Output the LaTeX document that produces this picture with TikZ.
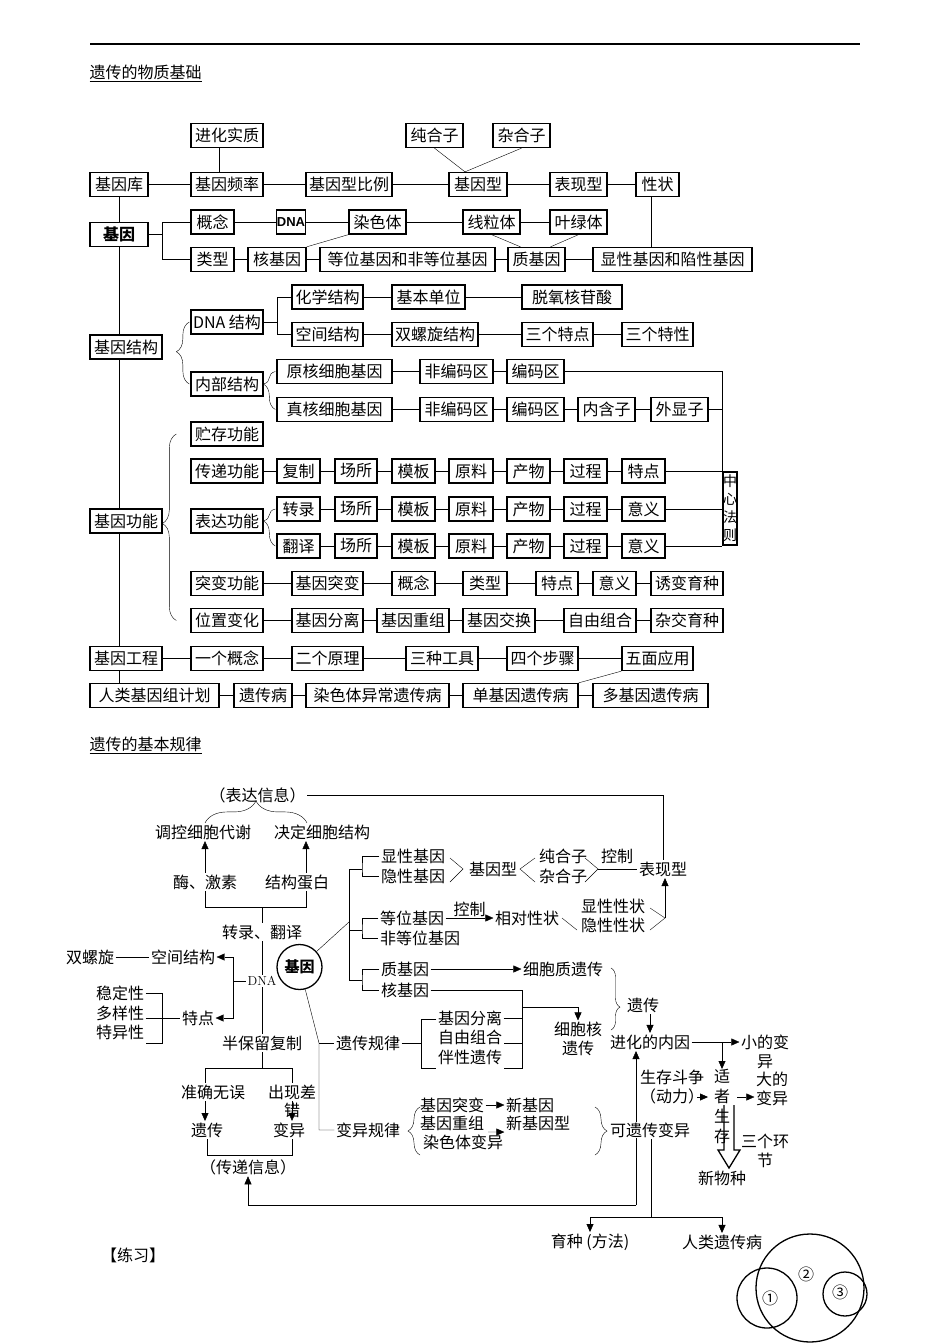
\documentclass[tikz,border=0pt]{standalone}
\usepackage{fontspec}
\newfontfamily\cjk{Noto Sans CJK SC}
\newfontfamily\lsans{Liberation Sans}
\usepackage{tikz}
\usetikzlibrary{positioning,arrows.meta,backgrounds,decorations.pathreplacing}
\tikzstyle{box} = [draw, fill=white, minimum height=24pt, inner sep=0pt,
                   font=\cjk\fontsize{16}{19}\selectfont]
\tikzstyle{bbox} = [box, font=\cjk\bfseries\fontsize{16}{19}\selectfont]
\tikzstyle{txt} = [inner sep=1pt, font=\cjk\fontsize{16}{19}\selectfont]
\tikzstyle{arr} = [-{Triangle[length=8pt,width=7pt]}]
\begin{document}
\begin{tikzpicture}[x=1pt, y=-1pt, line width=1.3pt,
		brc/.style={decorate, decoration={brace, amplitude=12pt, aspect=#1}},
		brc/.default=0.5
	]
	\useasboundingbox (0,0) rectangle (950,1344);
	\draw (90,44) -- (860,44);
	\node[txt, anchor=west] (ttl1) at (88,73) {\underline{遗传的物质基础}};

	% first part: boxes
	\node[box, minimum width=72pt] (jhsz) at (227,135.5) {进化实质};
	\node[box, minimum width=57pt] (chz) at (434.5,135.5) {纯合子};
	\node[box, minimum width=57pt] (zhz) at (521.5,135.5) {杂合子};
	\node[box, minimum width=58pt] (jyk) at (119,184.5) {基因库};
	\node[box, minimum width=72pt] (jypl) at (227,184.5) {基因频率};
	\node[box, minimum width=86pt] (jyxbl) at (349,184.5) {基因型比例};
	\node[box, minimum width=58pt] (jyx) at (478,184.5) {基因型};
	\node[box, minimum width=57pt] (bxx) at (578.5,184.5) {表现型};
	\node[box, minimum width=43pt] (xz) at (657.5,184.5) {性状};
	\node[bbox, minimum width=58pt] (jy) at (119,234.5) {基因};
	\node[box, minimum width=43pt] (gn) at (212.5,222) {概念};
	\node[box, minimum width=29pt, font=\lsans\bfseries\fontsize{13}{15}\selectfont] (dna) at (291,222) {DNA};
	\node[box, minimum width=57pt] (rst) at (377.5,222) {染色体};
	\node[box, minimum width=57pt] (xlt) at (491.5,222) {线粒体};
	\node[box, minimum width=57pt] (ylt) at (578.5,222) {叶绿体};
	\node[box, minimum width=43pt] (lx) at (212.5,259.5) {类型};
	\node[box, minimum width=58pt] (hjy) at (277,259.5) {核基因};
	\node[box, minimum width=175pt] (dwjy) at (407.5,259.5) {等位基因和非等位基因};
	\node[box, minimum width=57pt] (zjy) at (536.5,259.5) {质基因};
	\node[box, minimum width=159pt] (xxjy) at (672.5,259.5) {显性基因和陷性基因};

	\node[box, minimum width=72pt] (jyjg) at (126,347) {基因结构};
	\node[box, minimum width=72pt] (dnajg) at (227,322) {DNA 结构};
	\node[box, minimum width=72pt] (nbjg) at (227,384) {内部结构};
	\node[box, minimum width=71pt] (hxjg) at (327.5,297) {化学结构};
	\node[box, minimum width=73pt] (jbdw) at (428.5,297) {基本单位};
	\node[box, minimum width=100pt] (tyhg) at (572,297) {脱氧核苷酸};
	\node[box, minimum width=71pt] (kjjg) at (327.5,334.5) {空间结构};
	\node[box, minimum width=86pt] (slxjg) at (435,334.5) {双螺旋结构};
	\node[box, minimum width=71pt] (sgtd) at (557.5,334.5) {三个特点};
	\node[box, minimum width=71pt] (sgtx) at (657.5,334.5) {三个特性};
	\node[box, minimum width=115pt] (yhxb) at (334.5,371.5) {原核细胞基因};
	\node[box, minimum width=73pt] (fbm1) at (456.5,371.5) {非编码区};
	\node[box, minimum width=57pt] (bm1) at (535.5,371.5) {编码区};
	\node[box, minimum width=115pt] (zhxb) at (334.5,409.5) {真核细胞基因};
	\node[box, minimum width=73pt] (fbm2) at (456.5,409.5) {非编码区};
	\node[box, minimum width=57pt] (bm2) at (535.5,409.5) {编码区};
	\node[box, minimum width=57pt] (nhz) at (606.5,409.5) {内含子};
	\node[box, minimum width=57pt] (wxz) at (679.5,409.5) {外显子};

	\node[box, minimum width=72pt] (jygn) at (126,521) {基因功能};
	\node[box, minimum width=72pt] (zcgn) at (227,434) {贮存功能};
	\node[box, minimum width=72pt] (cdgn) at (227,471) {传递功能};
	\node[box, minimum width=72pt] (bdgn) at (227,521) {表达功能};
	\node[box, minimum width=43pt] (fz) at (298.5,471) {复制};
	\node[box, minimum width=43pt] (zl) at (298.5,509) {转录};
	\node[box, minimum width=43pt] (fy) at (298.5,546) {翻译};
	\foreach \r/\y/\e in {fz/471/特点, zl/509/意义, fy/546/意义}{
		\node[box, minimum width=42pt] (cs\r) at (356,\y) {场所};
		\node[box, minimum width=43pt] (mb\r) at (413.5,\y) {模板};
		\node[box, minimum width=44pt] (yl\r) at (471,\y) {原料};
		\node[box, minimum width=43pt] (cw\r) at (528.5,\y) {产物};
		\node[box, minimum width=43pt] (gc\r) at (585.5,\y) {过程};
		\node[box, minimum width=43pt] (yy\r) at (643.5,\y) {\e};
	}
	\node[draw, minimum width=14pt, minimum height=73pt, inner sep=0pt] (zxfz) at (730,508.5) {};
	\node[txt, align=center, inner sep=0pt, font=\cjk\fontsize{14}{18}\selectfont] (zxfzt) at (zxfz) {中\\心\\法\\则};

	\node[box, minimum width=72pt] (tbgn) at (227,583.5) {突变功能};
	\node[box, minimum width=71pt] (jytb) at (327.5,583.5) {基因突变};
	\node[box, minimum width=43pt] (tbgnn) at (413.5,583.5) {概念};
	\node[box, minimum width=44pt] (tblx) at (485,583.5) {类型};
	\node[box, minimum width=42pt] (tbtd) at (557,583.5) {特点};
	\node[box, minimum width=43pt] (tbyy) at (614.5,583.5) {意义};
	\node[box, minimum width=72pt] (ybyz) at (687,583.5) {诱变育种};
	\node[box, minimum width=72pt] (wzbh) at (227,620.5) {位置变化};
	\node[box, minimum width=71pt] (jyfl) at (327.5,620.5) {基因分离};
	\node[box, minimum width=72pt] (jycz) at (413,620.5) {基因重组};
	\node[box, minimum width=72pt] (jyjh) at (499,620.5) {基因交换};
	\node[box, minimum width=72pt] (zyzh) at (600,620.5) {自由组合};
	\node[box, minimum width=72pt] (zjyz) at (687,620.5) {杂交育种};
	\node[box, minimum width=72pt] (jygc) at (126,658.5) {基因工程};
	\node[box, minimum width=72pt] (ygnn) at (227,658.5) {一个概念};
	\node[box, minimum width=71pt] (egyl) at (327.5,658.5) {二个原理};
	\node[box, minimum width=72pt] (szgj) at (442,658.5) {三种工具};
	\node[box, minimum width=71pt] (sgbz) at (542.5,658.5) {四个步骤};
	\node[box, minimum width=71pt] (wmyy) at (657.5,658.5) {五面应用};
	\node[box, minimum width=129pt] (rljy) at (154.5,695.5) {人类基因组计划};
	\node[box, minimum width=58pt] (ycb) at (263,695.5) {遗传病};
	\node[box, minimum width=143pt] (rsyc) at (377.5,695.5) {染色体异常遗传病};
	\node[box, minimum width=115pt] (djyb) at (520.5,695.5) {单基因遗传病};
	\node[box, minimum width=115pt] (dujy) at (650.5,695.5) {多基因遗传病};

	% second part: texts
	\node[txt, anchor=west] (ttl2) at (88,745) {\underline{遗传的基本规律}};
	\node[txt] (bdxx) at (257.5,795) {（表达信息）};
	\node[txt] (tkdx) at (203,832) {调控细胞代谢};
	\node[txt] (jdjg) at (322,832) {决定细胞结构};
	\node[txt] (mjs) at (205,882) {酶、激素};
	\node[txt] (jgdb) at (297,882) {结构蛋白};
	\node[txt] (zlfy) at (262,932) {转录、翻译};
	\node[txt, font=\fontsize{13}{15}\selectfont] (dnat) at (262,981) {DNA};
	\node[txt] (kjjgt) at (183,957) {空间结构};
	\node[txt] (slx) at (90,957) {双螺旋};
	\node[txt] (wdx) at (120,993) {稳定性};
	\node[txt] (dyx) at (120,1013) {多样性};
	\node[txt] (tyx) at (120,1032) {特异性};
	\node[txt] (tdt) at (198,1018) {特点};
	\node[txt] (bblfz) at (262,1043) {半保留复制};
	\node[txt] (zqwx) at (213,1092) {准确无误};
	\node[txt] (cxc) at (292,1092) {出现差};
	\node[txt] (cuo) at (292,1110) {错};
	\node[txt] (ycx) at (207,1130) {遗传};
	\node[txt] (byx) at (289,1130) {变异};
	\node[txt] (cdxx) at (248,1167) {（传递信息）};

	\node[circle, draw, minimum size=45pt, inner sep=0pt, font=\cjk\bfseries\fontsize{15}{18}\selectfont] (jyq) at (299.5,967) {基因};
	\node[txt] (xxjyt) at (413,856) {显性基因};
	\node[txt] (yxjyt) at (413,876) {隐性基因};
	\node[txt] (jyxt) at (493,869) {基因型};
	\node[txt] (chzt) at (563,856) {纯合子};
	\node[txt] (zhzt) at (563,876) {杂合子};
	\node[txt] (kza) at (617,856) {控制};
	\node[txt] (bxxt) at (663,869) {表现型};
	\node[txt] (dwjyt) at (412,918) {等位基因};
	\node[txt] (fdwjy) at (420,938) {非等位基因};
	\node[txt] (xdxz) at (527,918) {相对性状};
	\node[txt] (xxxz) at (613,906) {显性性状};
	\node[txt] (yxxz) at (613,925) {隐性性状};
	\node[txt] (zjyt) at (405,969) {质基因};
	\node[txt] (hjyt) at (405,990) {核基因};
	\node[txt] (xbzyc) at (563,969) {细胞质遗传};
	\node[txt] (jyflt) at (470,1018) {基因分离};
	\node[txt] (zyzht) at (470,1037) {自由组合};
	\node[txt] (bxyc) at (470,1057) {伴性遗传};
	\node[txt, align=center] (xbhyc) at (578,1039) {细胞核\\遗传};
	\node[txt] (ycgl) at (368,1043) {遗传规律};
	\node[txt] (bygl) at (368,1130) {变异规律};
	\node[txt] (jytbt) at (452,1105) {基因突变};
	\node[txt] (jyczt) at (452,1123) {基因重组};
	\node[txt] (rsbt) at (463,1142) {染色体变异};
	\node[txt] (xjy) at (530,1105) {新基因};
	\node[txt] (xjyx) at (538,1123) {新基因型};
	\node[txt, fill=white] (kycby) at (650,1130) {可遗传变异};
	\node[txt] (ycy) at (643,1005) {遗传};
	\node[txt] (jhny) at (650,1042) {进化的内因};
	\node[txt] (xdby) at (765,1042) {小的变};
	\node[txt] (xdbyb) at (765,1062) {异};
	\node[txt, anchor=north, align=center, inner sep=0pt, font=\cjk\fontsize{16}{20}\selectfont] (szsc) at (722,1069) {适\\者\\生\\存};
	\node[txt, align=center] (sczz) at (672,1087.5) {生存斗争\\（动力）};
	\node[txt, align=center] (ddby) at (772,1089) {大的\\变异};
	\node[txt] (xwz) at (722,1178) {新物种};
	\node[txt, align=center] (sghj) at (765,1151) {三个环\\节};
	\node[txt] (yzff) at (590,1242) {育种 (方法)};
	\node[txt] (rlycb) at (722,1242) {人类遗传病};
	\node[txt] (lianxi) at (133,1255) {【练习】};

	\draw (810,1288) circle (54pt);
	\draw (767,1298) circle (30pt);
	\draw (845,1294) circle (22pt);
	\node[txt] (qa) at (770,1298) {①};
	\node[txt] (qb) at (806,1274) {②};
	\node[txt] (qc) at (840,1292) {③};

	\begin{scope}[on background layer]
		% first part: connectors
		\draw (jyk) -- (jypl) -- (jyxbl) -- (jyx) -- (bxx) -- (xz);
		\draw ([xshift=-8pt]jypl.north) -- ([xshift=-8pt]jhsz.south);
		\draw (chz.south) -- ([xshift=-13pt]jyx.north);
		\draw (zhz.south) -- ([xshift=-13pt]jyx.north);
		\draw ([xshift=-6pt]xz.south) -- ([xshift=-6pt]xz.south |- xxjy.north);
		\draw (jyk) -- (jy);
		\draw (jy.south) -- (jy.south |- rljy.north);
		\draw (jy.east) -- ++(14,0) coordinate (jyb);
		\draw (gn.west) -| (jyb) |- (lx.west);
		\draw (gn) -- (dna) -- (rst) -- (xlt) -- (ylt);
		\draw (rst.south west) -- (hjy.north east);
		\draw (xlt.south) -- ([xshift=-16pt]zjy.north);
		\draw (ylt.south) -- ([xshift=14pt]zjy.north);
		\draw (lx) -- (hjy) -- (dwjy) -- (zjy) -- (xxjy);

		\draw[brc=0.52, decoration={amplitude=13pt}] ([xshift=-1pt]nbjg.west) -- ([xshift=-1pt]dnajg.west);
		\draw (dnajg.east) -- ++(14,0) coordinate (dnab);
		\draw (hxjg.west) -| (dnab) |- (kjjg.west);
		\draw (hxjg) -- (jbdw) -- (tyhg);
		\draw (kjjg) -- (slxjg) -- (sgtd) -- (sgtx);
		\draw[brc=0.67] ([xshift=-1pt]zhxb.west) -- ([xshift=-1pt]yhxb.west);
		\draw (yhxb) -- (fbm1) -- (bm1);
		\draw (zhxb) -- (fbm2) -- (bm2) -- (nhz) -- (wxz);
		\draw (bm1.east) -| (zxfz.north west);
		\draw (wxz.east) -- (wxz.east -| zxfz.west);

		\draw[brc=0.52, decoration={amplitude=14pt}] ([xshift=-14pt]wzbh.west) -- ([xshift=-14pt]zcgn.west);
		\draw (cdgn) -- (fz);
		\draw[brc=0.68] ([xshift=-1pt]fy.west) -- ([xshift=-1pt]zl.west);
		\foreach \r in {fz,zl,fy}{
			\draw (\r) -- (cs\r) -- (mb\r) -- (yl\r) -- (cw\r) -- (gc\r) -- (yy\r);
			\draw (yy\r.east) -- (yy\r.east -| zxfz.west);
		}
		\draw (tbgn) -- (jytb) -- (tbgnn) -- (tblx) -- (tbtd) -- (tbyy) -- (ybyz);
		\draw (wzbh) -- (jyfl) -- (jycz) -- (jyjh) -- (zyzh) -- (zjyz);
		\draw (jygc) -- (ygnn) -- (egyl) -- (szgj) -- (sgbz) -- (wmyy);
		\draw (rljy) -- (ycb) -- (rsyc) -- (djyb) -- (dujy);
		\draw (wmyy.south west) -- (djyb.north east);

		% second part: left branch
		\draw (bdxx.east) -| (bxxt.north);
		\draw[brc, decoration={amplitude=22pt}] ([xshift=2pt]tkdx.north) -- ([xshift=-15pt]jdjg.north);
		\draw[arr] (mjs.north) -- (mjs.north |- tkdx.south);
		\draw[arr] ([xshift=9pt]jgdb.north) -- ([xshift=9pt]jgdb.north |- jdjg.south);
		\coordinate (jc) at (262,907);
		\draw (mjs.south) |- (jc) -| ([xshift=9pt]jgdb.south);
		\draw (jc) -- (zlfy.north);
		\draw (zlfy.south) -- (dnat.north);
		\draw (dnat.south) -- (bblfz.north);
		\coordinate (dj) at (233,981);
		\draw (dnat.west) -- (dj);
		\draw[arr] (dj) |- (kjjgt.east);
		\draw[arr] (dj) |- (tdt.east);
		\draw (slx) -- (kjjgt);
		\coordinate (wb) at (162,1043);
		\draw (wdx.east) -| (wb) -- (wb -| tyx.east);
		\draw (tdt.west -| dyx.east) -- (tdt.west);
		\coordinate (bj) at (262,1068);
		\draw (bblfz.south) -- (bj);
		\draw ([xshift=-8pt]zqwx.north) |- (bj) -| (cxc.north);
		\draw[arr] ([xshift=-8pt]zqwx.south) -- ([xshift=-8pt]zqwx.south |- ycx.north);
		\draw[arr] (cxc.south) -- (cxc.south |- byx.north);
		\coordinate (cb) at (248,1155);
		\draw (ycx.south) |- (cb) -| ([xshift=3pt]byx.south);

		% second part: right branch
		\coordinate (zt) at (349,869);
		\coordinate (zm) at (349,922);
		\coordinate (zbm) at (349,980);
		\draw (zt) -- (zbm);
		\draw (jyq) -- (zm);
		\coordinate (ba) at (362,869);
		\coordinate (bb) at (362,930);
		\coordinate (bc) at (362,980);
		\draw (zt) -- (ba);
		\draw (xxjyt.west) -| (ba) |- (yxjyt.west);
		\draw (bb -| zt) -- (bb);
		\draw (dwjyt.west) -| (bb) |- (fdwjy.west);
		\draw (zbm) -- (bc);
		\draw (zjyt.west) -| (bc) |- (hjyt.west);
		\draw (450,858) -- (463,869) -- (450,882);
		\draw (535,858) -- (520,869) -- (535,882);
		\draw (585,858) -- (598,869) -- (585,882);
		\coordinate (cz) at (598,869);
		\draw (cz) -- (bxxt.west);
		\draw[arr] (dwjyt) -- node[txt, above] (kzb) {控制} (xdxz);
		\draw (562,918) -- (577,930);
		\draw (650,908) -- (665,918) -- (650,930);
		\coordinate (xzj) at (665,918);
		\draw[arr] (xzj) -- (xzj |- bxxt.south);
		\draw[arr] (zjyt) -- (xbzyc);
		\coordinate (hr) at (522,1068);
		\coordinate (hm) at (522,1043);
		\draw (hjyt.east) -| (hr) -- (hr -| bxyc.east);
		\draw (jyflt.east) -- (jyflt.east -| hr);
		\draw (hm) -- (hm -| zyzht.east);
		\coordinate (hj) at (522,1007);
		\draw[arr] (hj) -| (xbhyc.north);
		\coordinate (lt) at (421,1019);
		\coordinate (lm) at (421,1043);
		\coordinate (lb) at (421,1068);
		\draw (lt -| jyflt.west) -- (lt) -- (lb) -- (lb -| jyflt.west);
		\draw (ycgl.east) -- (lm);
		\coordinate (gt) at (319,1043);
		\coordinate (gb) at (319,1130);
		\draw (jyq) -- (gt) -- (gb) -- (bygl.west);
		\draw (gt) -- (ycgl.west);
		\draw[brc] (420,1155) -- (420,1107);
		\draw[arr] (jytbt.east) -- (xjy.west);
		\coordinate (ca) at (488,1132);
		\draw[arr] (ca) -- (xjyx.south west);
		\draw[brc] (595,1107) -- (595,1155);
		\draw[brc=0.63, decoration={amplitude=9pt}] (611,968) -- (611,1030);
		\draw[arr] (jhny.north |- ycy.south) -- (jhny.north);
		\draw[arr] (jhny.east) -- (xdby.west);
		\coordinate (sz) at (722,1042);
		\draw[arr] (sz) -- (szsc.north);
		\coordinate (dl) at (697,1097);
		\coordinate (dle) at (708,1097);
		\draw[arr] (dl) -- (dle);
		\coordinate (dd) at (737,1097);
		\draw[arr] (dd) -- (ddby.west |- dd);
		\coordinate (kj) at (636,1205);
		\draw[arr] (kj) -- (kj |- jhny.south);
		\draw[arr] (kj) -| (cdxx.south);
		\coordinate (kd) at (651,1217);
		\draw (kycby.south -| kd) -- (kd);
		\draw[arr] (kd) -| (yzff.north);
		\draw[arr] (kd) -| (rlycb.north);
	\end{scope}
	% hollow arrow
	\draw (724,1105) -- (724,1150) -- (718,1150) -- (729,1168) -- (740,1150) -- (734,1150) -- (734,1105);
\end{tikzpicture}
\end{document}
